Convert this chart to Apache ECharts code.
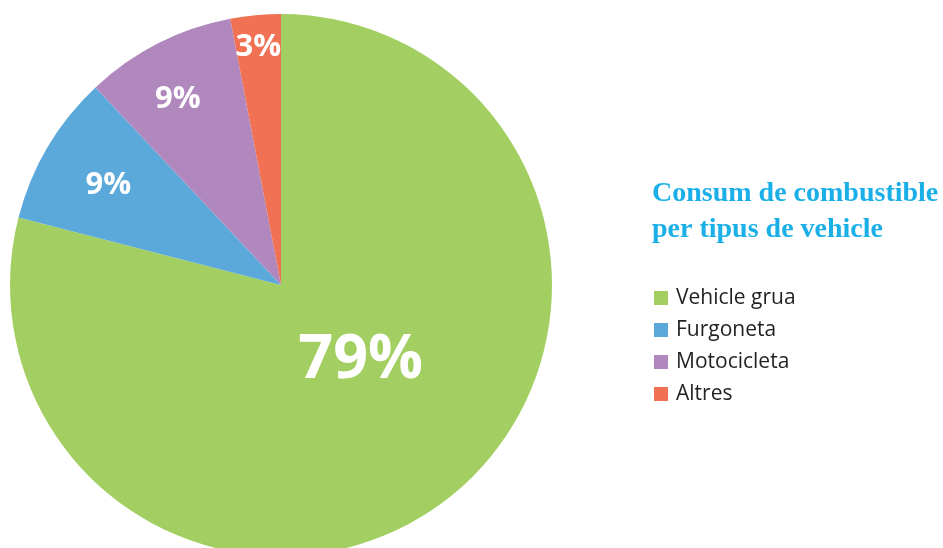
<!DOCTYPE html>
<html>
<head>
<meta charset="utf-8">
<script src="https://cdn.jsdelivr.net/npm/echarts@6/dist/echarts.min.js"></script>
<style>
    html, body { margin: 0; padding: 0; background: #fff; }
    #pie { width: 943px; height: 548px; }
</style>
</head>
<body>
<div id="pie"></div>
<script>
    // categories
    let categories = ['Vehicle grua', 'Furgoneta', 'Motocicleta', 'Altres'];
    // percentages
    let values = [79, 9, 9, 3];
    // colours
    let colorList = ['#a3cf62', '#5ba9db', '#b088be', '#f07153'];

    // label distance from center (part of radius) and angle shift (degrees)
    let labelDist = [0.40, 0.74, 0.79, 0.89];
    let labelShift = [-9.5, 0, -1.8, 0];
    let labelSize = [61, 31, 31, 31];

    let center = [281, 285];
    let radius = 271;

    let total = values.reduce((a, b) => a + b, 0);
    // mid angle of each slice, clockwise from the top
    let midAngle = [];
    let acc = 0;
    values.forEach((v, i) => {
        midAngle.push(((acc + v / 2) / total * 360 + labelShift[i]) * Math.PI / 180);
        acc += v;
    });

    let pieData = categories.map((name, i) => ({
        name: name,
        value: values[i],
        itemStyle: { color: colorList[i] },
        label: { fontSize: labelSize[i] }
    }));

    let myChart = echarts.init(document.getElementById('pie'));
    let option = {
        animation: false,
        title: {
            text: 'Consum de combustible\nper tipus de vehicle',
            left: 647,
            top: 171,
            textStyle: {
                fontFamily: 'Liberation Serif',
                fontWeight: 'bold',
                fontSize: 28,
                lineHeight: 36,
                color: '#1bafe8'
            }
        },
        legend: {
            orient: 'vertical',
            left: 649,
            top: 281,
            icon: 'rect',
            itemWidth: 14,
            itemHeight: 14,
            itemGap: 8,
            textStyle: {
                fontFamily: 'Open Sans',
                fontSize: 21,
                color: '#231f20',
                lineHeight: 24,
                padding: [0, 0, 0, 3]
            },
            data: categories
        },
        series: [{
            type: 'pie',
            center: center,
            radius: radius,
            startAngle: 90,
            clockwise: true,
            data: pieData,
            label: {
                show: true,
                position: 'inside',
                formatter: '{c}%',
                color: '#fff',
                fontFamily: 'Open Sans',
                fontWeight: 'bold'
            },
            labelLine: { show: false },
            labelLayout: function (params) {
                let i = params.dataIndex;
                let r = radius * labelDist[i];
                return {
                    x: center[0] + Math.sin(midAngle[i]) * r,
                    y: center[1] - Math.cos(midAngle[i]) * r + 2,
                    align: 'center',
                    verticalAlign: 'middle'
                };
            }
        }]
    };
    myChart.setOption(option);
</script>
</body>
</html>
